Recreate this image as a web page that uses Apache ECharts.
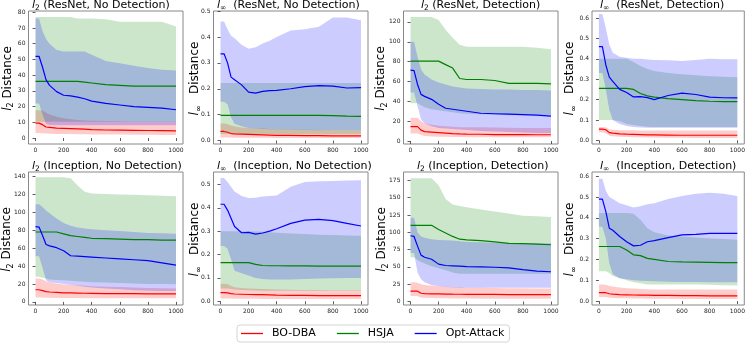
<!DOCTYPE html>
<html>
<head>
<meta charset="utf-8">
<script src="https://cdn.jsdelivr.net/npm/echarts@6/dist/echarts.min.js"></script>
<style>
  html, body { margin: 0; padding: 0; background: #fff; }
  #main { width: 748px; height: 344px; }
</style>
</head>
<body>
<div id="main"></div>
<script>
// iterations on the x axis (shared by all panels)
const xs = [0, 25, 50, 75, 100, 150, 200, 250, 300, 350, 400, 500, 600, 700, 800, 900, 1000];
const xTicks = [0, 200, 400, 600, 800, 1000];

// a: l2 (ResNet, No Detection)
const aTicks = [0, 10, 20, 30, 40, 50, 60, 70, 80];
const a_bo   = [9.5, 9.5, 8.5, 7, 6.8, 6.3, 6.2, 6, 5.8, 5.6, 5.4, 5.1, 5, 4.9, 4.8, 4.7, 4.6];
const a_boLo = [3.2, 3.2, 3, 2.8, 2.7, 2.6, 2.5, 2.5, 2.4, 2.4, 2.3, 2.2, 2.2, 2.1, 2.1, 2, 2];
const a_boHi = [17.7, 17.7, 17.5, 16, 15, 13.5, 12.5, 12, 11.5, 11.2, 11, 10.8, 10.6, 10.5, 10.5, 10.5, 10.5];
const a_hs   = [36, 36, 36, 36, 36, 36, 36, 36, 36, 35.5, 35, 34, 33.5, 33, 33, 33, 33];
const a_hsLo = [10.3, 10.3, 10.3, 10.3, 10.3, 10.3, 10.3, 10.3, 10.3, 10.3, 10.3, 10.3, 10.3, 10.3, 10.3, 10.3, 10.3];
const a_hsHi = [77, 77, 77, 77, 77, 77, 77, 77, 76, 76, 76, 75.5, 74, 74, 74, 74, 71];
const a_op   = [52, 52, 45, 37, 33.5, 29.5, 27.2, 26.8, 26, 25, 23.5, 22, 21, 20, 19.5, 19, 18];
const a_opLo = [22, 22, 15, 9, 8.3, 8.2, 8.2, 8.2, 8.2, 8.2, 8.2, 8.2, 8.2, 8.2, 8.2, 8.2, 8.2];
const a_opHi = [76, 76, 68, 63, 60, 56, 55, 55, 55, 55, 53, 49, 47.5, 46, 44.5, 43.5, 43];

// b: l-inf (ResNet, No Detection)
const bTicks = [0, 0.1, 0.2, 0.3, 0.4, 0.5];
const b_bo   = [.035, .035, .032, .027, .026, .025, .024, .023, .022, .021, .020, .020, .019, .019, .018, .018, .018];
const b_boLo = [.012, .012, .012, .012, .011, .011, .011, .011, .011, .011, .010, .010, .010, .010, .010, .010, .010];
const b_boHi = [.066, .066, .064, .058, .055, .050, .048, .047, .046, .045, .044, .043, .042, .041, .040, .040, .040];
const b_hs   = [.097, .097, .097, .097, .097, .097, .097, .097, .097, .097, .097, .097, .097, .097, .096, .094, .093];
const b_hsLo = [.025, .025, .025, .025, .025, .025, .025, .025, .025, .025, .025, .025, .025, .025, .025, .025, .025];
const b_hsHi = [.222, .222, .222, .222, .222, .222, .222, .222, .222, .222, .222, .222, .222, .222, .222, .222, .222];
const b_op   = [.335, .335, .300, .245, .235, .215, .187, .183, .190, .193, .194, .200, .208, .212, .210, .203, .204];
const b_opLo = [.150, .150, .140, .090, .065, .055, .048, .046, .045, .044, .043, .042, .041, .040, .040, .040, .040];
const b_opHi = [.460, .460, .430, .405, .395, .370, .355, .360, .375, .385, .400, .425, .430, .440, .475, .475, .465];

// c: l2 (ResNet, Detection)
const cTicks = [0, 20, 40, 60, 80, 100, 120];
const c_bo   = [14.5, 14.5, 14.5, 11, 9.5, 9, 8.5, 8, 7.5, 7.2, 7, 6.8, 6.5, 6.4, 6.4, 6.3, 6.3];
const c_boLo = [7.5, 7.5, 7.5, 6, 5, 4.5, 4.3, 4.2, 4, 4, 3.9, 3.8, 3.8, 3.7, 3.7, 3.7, 3.7];
const c_boHi = [23.5, 23.5, 23.5, 20, 18, 16.5, 15.5, 15, 14.5, 14, 14, 13.8, 13.5, 13.3, 13.2, 13, 13];
const c_hs   = [80.5, 80.5, 80.5, 80.5, 80.5, 80.5, 80.5, 77, 73.5, 63, 62, 62, 61, 58, 58, 58, 57.5];
const c_hsLo = [38, 38, 38, 36, 34, 32, 31, 30, 29, 28, 27.5, 27, 26.5, 26, 26, 26, 26];
const c_hsHi = [125, 125, 125, 125, 125, 125, 122, 112, 104, 97, 95, 95, 95, 95, 95, 94, 92.5];
const c_op   = [71.5, 71, 57, 47, 45, 42, 37, 33, 32, 31, 30, 28, 27.5, 27, 26.5, 26, 25];
const c_opLo = [49, 49, 35, 22, 18, 15, 13, 12.5, 12, 11.5, 11, 10, 9.5, 9, 8.5, 8.2, 8];
const c_opHi = [100, 100, 85, 72, 67, 62, 59, 57, 55, 54, 53, 52.5, 52, 52, 51.5, 51.5, 51];

// d: l-inf (ResNet, Detection)
const dTicks = [0, 0.1, 0.2, 0.3, 0.4, 0.5, 0.6];
const d_bo   = [.055, .055, .052, .038, .035, .032, .030, .029, .028, .027, .027, .026, .025, .025, .025, .025, .025];
const d_boLo = [.040, .040, .035, .022, .020, .017, .016, .015, .015, .014, .014, .013, .013, .012, .012, .012, .012];
const d_boHi = [.065, .065, .064, .055, .052, .050, .049, .049, .048, .048, .048, .048, .048, .048, .048, .048, .048];
const d_hs   = [.255, .255, .255, .255, .255, .255, .255, .250, .230, .218, .212, .205, .200, .195, .192, .190, .190];
const d_hsLo = [.100, .100, .100, .100, .100, .095, .080, .075, .070, .067, .065, .065, .065, .065, .065, .065, .065];
const d_hsHi = [.400, .400, .400, .400, .400, .400, .400, .385, .365, .350, .340, .330, .325, .320, .315, .312, .310];
const d_op   = [.460, .460, .370, .310, .290, .250, .235, .213, .215, .210, .200, .220, .232, .225, .212, .209, .208];
const d_opLo = [.330, .330, .250, .150, .100, .080, .070, .065, .063, .062, .062, .062, .062, .062, .062, .062, .062];
const d_opHi = [.620, .620, .550, .470, .430, .410, .405, .400, .400, .397, .395, .393, .390, .395, .400, .398, .398];

// e: l2 (Inception, No Detection)
const eTicks = [0, 20, 40, 60, 80, 100, 120, 140];
const e_bo   = [13.5, 13.5, 12.5, 11.5, 11, 10.5, 10, 10, 9.8, 9.6, 9.5, 9.3, 9.2, 9.1, 9, 9, 9];
const e_boLo = [5, 5, 4.8, 4.6, 4.5, 4.4, 4.3, 4.2, 4.2, 4.1, 4.1, 4, 4, 4, 4, 4, 4];
const e_boHi = [26, 26, 25, 23, 22, 20.5, 19.5, 19, 18.5, 18, 17.5, 17, 16.5, 16, 15.5, 15.2, 15];
const e_hs   = [78, 78, 78, 78, 78, 78, 76, 74, 73, 72, 71, 70.5, 70, 69.5, 69.5, 69, 69];
const e_hsLo = [28, 28, 27, 26, 25, 24.5, 24, 23.5, 23, 22.5, 22, 21.5, 21, 20.5, 20, 20, 19.6];
const e_hsHi = [139, 139, 139, 139, 139, 139, 139, 138, 130, 123, 121, 120.5, 120, 119.5, 119, 118.5, 118];
const e_op   = [84, 83.5, 74, 64, 62.5, 60.5, 57, 51.5, 51, 50.5, 50, 49, 48, 47, 46, 43.5, 41];
const e_opLo = [51, 51, 38, 24, 22, 21, 20, 19, 18, 17, 16, 15, 14, 13, 12.5, 12, 12];
const e_opHi = [109, 109, 106, 102, 99, 93, 88, 85, 83, 82, 81, 80, 79, 78, 77, 76.5, 76];

// f: l-inf (Inception, No Detection)
const fTicks = [0, 0.1, 0.2, 0.3, 0.4, 0.5];
const f_bo   = [.037, .037, .036, .033, .031, .030, .029, .028, .028, .027, .026, .025, .025, .024, .024, .024, .024];
const f_boLo = [.012, .012, .012, .012, .011, .011, .011, .011, .010, .010, .010, .010, .010, .010, .010, .010, .010];
const f_boHi = [.075, .075, .074, .065, .060, .057, .055, .053, .052, .051, .050, .049, .048, .048, .047, .047, .047];
const f_hs   = [.165, .165, .165, .165, .165, .165, .165, .158, .153, .152, .152, .151, .151, .150, .150, .150, .150];
const f_hsLo = [.055, .055, .055, .052, .050, .048, .047, .046, .045, .045, .045, .045, .045, .045, .045, .045, .045];
const f_hsHi = [.299, .299, .299, .299, .299, .299, .299, .298, .297, .295, .293, .290, .288, .285, .283, .281, .280];
const f_op   = [.415, .415, .390, .355, .320, .293, .295, .287, .292, .300, .310, .333, .347, .350, .345, .333, .322];
const f_opLo = [.236, .236, .225, .180, .130, .120, .110, .100, .095, .093, .093, .093, .095, .097, .098, .099, .100];
const f_opHi = [.527, .527, .510, .490, .470, .450, .442, .443, .448, .450, .452, .490, .510, .513, .515, .517, .518];

// g: l2 (Inception, Detection)
const gTicks = [0, 25, 50, 75, 100, 125, 150, 175];
const g_bo   = [15, 15, 15, 12, 11.5, 11.2, 11, 10.8, 10.6, 10.5, 10.4, 10.3, 10.2, 10.1, 10, 10, 10];
const g_boLo = [8, 8, 7.5, 6, 5.5, 5, 4.8, 4.6, 4.5, 4.4, 4.3, 4.2, 4.1, 4, 4, 4, 4];
const g_boHi = [28, 28, 27, 25, 24, 23, 22, 21.5, 21, 20.5, 20, 19.8, 19.5, 19.3, 19.2, 19, 19];
const g_hs   = [110, 110, 110, 110, 110, 110, 104, 99, 94, 90, 89, 88, 86, 84, 83.5, 83, 82];
const g_hsLo = [64, 64, 60, 57, 55, 51, 48, 45, 42, 40, 40, 40, 40, 40, 40, 40, 40];
const g_hsHi = [178, 178, 178, 178, 178, 178, 168, 148, 140, 138, 136, 133, 130, 127, 124, 123, 122];
const g_op   = [95, 94, 80, 67, 64, 61, 54, 52, 51.5, 51, 50.5, 50, 49.5, 48.5, 46, 44, 43];
const g_opLo = [70, 70, 42, 32, 28, 24, 22, 21, 20.5, 20, 20, 20, 20, 20, 20, 20, 20];
const g_opHi = [121, 121, 100, 94, 92, 90, 89, 88.5, 88, 87, 86, 85.5, 85, 84.5, 84, 84, 84];

// h: l-inf (Inception, Detection)
const hTicks = [0, 0.1, 0.2, 0.3, 0.4, 0.5, 0.6];
const h_bo   = [.040, .040, .040, .035, .033, .031, .030, .029, .028, .028, .027, .027, .026, .026, .025, .025, .025];
const h_boLo = [.020, .020, .020, .016, .015, .014, .013, .012, .012, .011, .011, .011, .010, .010, .010, .010, .010];
const h_boHi = [.080, .080, .078, .072, .070, .065, .062, .060, .058, .057, .056, .055, .055, .055, .055, .055, .055];
const h_hs   = [.262, .262, .262, .262, .262, .262, .245, .222, .218, .205, .200, .190, .188, .187, .186, .185, .185];
const h_hsLo = [.143, .143, .143, .135, .120, .110, .100, .090, .085, .080, .080, .080, .080, .080, .078, .076, .075];
const h_hsHi = [.423, .423, .423, .423, .423, .423, .423, .420, .390, .350, .330, .315, .310, .305, .300, .298, .295];
const h_op   = [.490, .490, .430, .350, .340, .310, .285, .265, .268, .285, .290, .305, .318, .320, .325, .325, .325];
const h_opLo = [.357, .357, .300, .180, .130, .110, .105, .100, .098, .096, .095, .093, .092, .091, .090, .090, .090];
const h_opHi = [.588, .588, .530, .500, .490, .470, .460, .450, .455, .465, .470, .490, .505, .515, .520, .515, .505];

const FONT = 'DejaVu Sans';
const colors = { bo: '#ff0000', hs: '#008000', op: '#0000ff' };
const bandFill = { bo: 'rgba(255,0,0,0.2)', hs: 'rgba(0,128,0,0.2)', op: 'rgba(0,0,255,0.2)' };
const names = { bo: 'BO-DBA', hs: 'HSJA', op: 'Opt-Attack' };

// panel layout (pixels)
const colLeft = [28.5, 213.5, 403.5, 592];
const rowTop = [11, 172];
const W = 154.5, H = 133;

const panels = [
  { sub: '2', name: ' (ResNet, No Detection)', ticks: aTicks, min: -3.8, max: 80.8, dec: 0, lx: 7.5, tx: 32,
    bo: [a_bo, a_boLo, a_boHi], hs: [a_hs, a_hsLo, a_hsHi], op: [a_op, a_opLo, a_opHi] },
  { sub: '∞', name: '  (ResNet, No Detection)', ticks: bTicks, min: -0.0134, max: 0.5004, dec: 1, lx: 195, tx: 217,
    bo: [b_bo, b_boLo, b_boHi], hs: [b_hs, b_hsLo, b_hsHi], op: [b_op, b_opLo, b_opHi] },
  { sub: '2', name: ' (ResNet, Detection)', ticks: cTicks, min: -3, max: 131, dec: 0, lx: 381, tx: 421,
    bo: [c_bo, c_boLo, c_boHi], hs: [c_hs, c_hsLo, c_hsHi], op: [c_op, c_opLo, c_opHi] },
  { sub: '∞', name: '  (ResNet, Detection)', ticks: dTicks, min: -0.018, max: 0.635, dec: 1, lx: 570, tx: 600,
    bo: [d_bo, d_boLo, d_boHi], hs: [d_hs, d_hsLo, d_hsHi], op: [d_op, d_opLo, d_opHi] },
  { sub: '2', name: ' (Inception, No Detection)', ticks: eTicks, min: -3.5, max: 145, dec: 0, lx: 7, tx: 32,
    bo: [e_bo, e_boLo, e_boHi], hs: [e_hs, e_hsLo, e_hsHi], op: [e_op, e_opLo, e_opHi] },
  { sub: '∞', name: '  (Inception, No Detection)', ticks: fTicks, min: -0.016, max: 0.553, dec: 1, lx: 195, tx: 217,
    bo: [f_bo, f_boLo, f_boHi], hs: [f_hs, f_hsLo, f_hsHi], op: [f_op, f_opLo, f_opHi] },
  { sub: '2', name: ' (Inception, Detection)', ticks: gTicks, min: -5, max: 187, dec: 0, lx: 382, tx: 417,
    bo: [g_bo, g_boLo, g_boHi], hs: [g_hs, g_hsLo, g_hsHi], op: [g_op, g_opLo, g_opHi] },
  { sub: '∞', name: '  (Inception, Detection)', ticks: hTicks, min: -0.019, max: 0.62, dec: 1, lx: 570, tx: 600,
    bo: [h_bo, h_boLo, h_boHi], hs: [h_hs, h_hsLo, h_hsHi], op: [h_op, h_opLo, h_opHi] }
];

function rich(size, sub) {
  return {
    i: { fontStyle: 'italic', fontSize: size, lineHeight: size + 3, fontFamily: FONT, fill: '#000' },
    s: { fontSize: sub, lineHeight: sub + 1, verticalAlign: 'bottom', fontFamily: FONT, fill: '#000' },
    t: { fontSize: size, lineHeight: size + 3, fontFamily: FONT, fill: '#000' }
  };
}

const grids = [], xAxes = [], yAxes = [], series = [], graphics = [];

panels.forEach((p, i) => {
  const left = colLeft[i % 4], top = rowTop[Math.floor(i / 4)];
  grids.push({ left: left, top: top, width: W, height: H, show: true,
    borderColor: '#7a7a7a', borderWidth: 0.9, backgroundColor: 'transparent' });

  xAxes.push({
    gridIndex: i, type: 'value', min: -50, max: 1050,
    axisLine: { show: false }, splitLine: { show: false },
    axisTick: { show: true, customValues: xTicks, length: 3, lineStyle: { color: '#333', width: 0.8 } },
    axisLabel: { customValues: xTicks, fontSize: 6, color: '#222', margin: 3, fontFamily: FONT,
      formatter: v => String(v) }
  });

  yAxes.push({
    gridIndex: i, type: 'value', min: p.min, max: p.max,
    axisLine: { show: false }, splitLine: { show: false },
    axisTick: { show: true, customValues: p.ticks, length: 3, lineStyle: { color: '#333', width: 0.8 } },
    axisLabel: { customValues: p.ticks, fontSize: 6, color: '#222', margin: 3, fontFamily: FONT,
      formatter: v => v.toFixed(p.dec) }
  });

  // panel title
  graphics.push({
    type: 'text', x: p.tx, y: top - 6,
    style: {
      text: '{i|l}{s|' + p.sub + '}{t|' + p.name + '}',
      rich: rich(11, 7.5), fontSize: 11, fontFamily: FONT, fill: '#000',
      textAlign: 'left', textVerticalAlign: 'middle'
    }
  });
  // y axis label
  graphics.push({
    type: 'text', x: p.lx, y: top + H / 2 + 1, rotation: Math.PI / 2,
    style: {
      text: '{i|l}{s|' + p.sub + '}{t|' + (p.sub === '2' ? ' ' : '   ') + 'Distance}',
      rich: rich(12, 8), fontSize: 12, fontFamily: FONT, fill: '#000',
      textAlign: 'center', textVerticalAlign: 'middle'
    }
  });

  ['bo', 'hs', 'op'].forEach(k => {
    const [mean, lo, hi] = p[k];
    // shaded band between lo and hi, drawn as one polygon through the axes' scales
    series.push({
      type: 'custom', xAxisIndex: i, yAxisIndex: i, silent: true,
      data: xs.map((x, j) => [x, lo[j], hi[j]]),
      encode: { x: 0, y: [1, 2] },
      renderItem: (params, api) => {
        if (params.dataIndex !== 0) return null;
        const upper = xs.map((x, j) => api.coord([x, hi[j]]));
        const lower = xs.map((x, j) => api.coord([x, lo[j]])).reverse();
        return { type: 'polygon', shape: { points: upper.concat(lower) }, style: { fill: bandFill[k] } };
      }
    });
    series.push({
      name: names[k], type: 'line', xAxisIndex: i, yAxisIndex: i,
      symbol: 'none', lineStyle: { color: colors[k], width: 1.2 },
      itemStyle: { color: colors[k] },
      data: xs.map((x, j) => [x, mean[j]])
    });
  });
});

const chart = echarts.init(document.getElementById('main'));
chart.setOption({
  animation: false,
  grid: grids,
  xAxis: xAxes,
  yAxis: yAxes,
  graphic: graphics,
  legend: {
    data: ['BO-DBA', 'HSJA', 'Opt-Attack'],
    left: 237, top: 325,
    icon: 'rect', itemWidth: 22, itemHeight: 1.3, itemGap: 21,
    padding: [3, 5, 3, 4],
    borderColor: '#d4d4d4', borderWidth: 1, borderRadius: 3,
    textStyle: { fontSize: 11, fontFamily: FONT, color: '#000', padding: [0, 0, 0, 4] }
  },
  series: series
});
</script>
</body>
</html>
